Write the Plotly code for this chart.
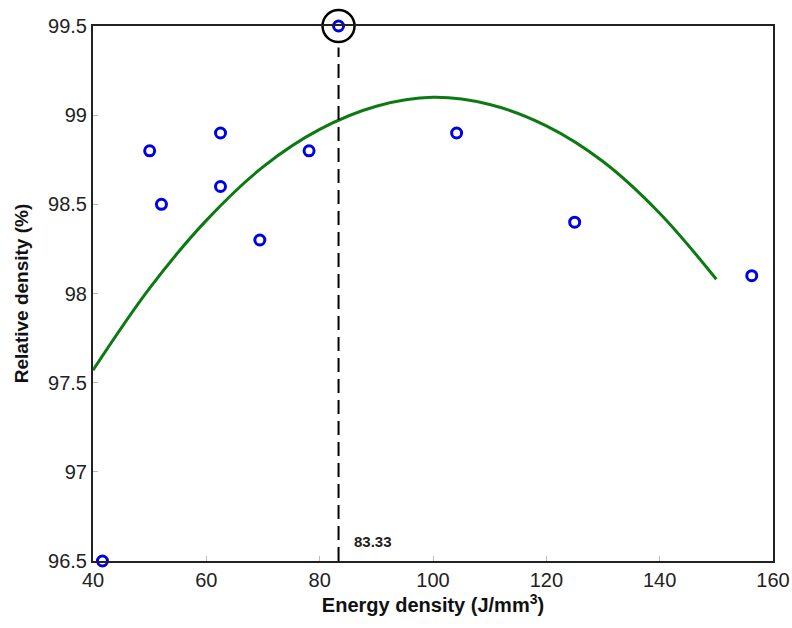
import plotly.graph_objects as go

# Measured points
energy_density = [41.67, 50.0, 52.08, 62.5, 62.5, 69.44, 78.13, 83.33, 104.17, 125.0, 156.25]
relative_density = [96.5, 98.8, 98.5, 98.9, 98.6, 98.3, 98.8, 99.5, 98.9, 98.4, 98.1]

# Fitted curve
fit_x = [40, 50, 60, 70, 80, 90, 100, 110, 120, 130, 140, 150]
fit_y = [97.57, 98.03, 98.41, 98.71, 98.92, 99.05, 99.10, 99.06, 98.94, 98.74, 98.45, 98.08]

optimum_x = 83.33
optimum_y = 99.5
optimum_label = "83.33"

FONT = "Liberation Sans, Arial, Helvetica"

fig = go.Figure()

fig.add_trace(go.Scatter(
    x=fit_x, y=fit_y, mode="lines",
    line=dict(color="#0b7a12", width=3, shape="spline"),
    showlegend=False, hoverinfo="skip"))

fig.add_trace(go.Scatter(
    x=[optimum_x, optimum_x], y=[96.5, 99.38], mode="lines",
    line=dict(color="black", width=2, dash="14px,7px"),
    showlegend=False, hoverinfo="skip"))

fig.add_trace(go.Scatter(
    x=energy_density, y=relative_density, mode="markers",
    marker=dict(symbol="circle-open", size=10, color="#0000e6",
                line=dict(width=3, color="#0000e6")),
    showlegend=False, cliponaxis=False))

# Ring around the optimum point
fig.add_trace(go.Scatter(
    x=[optimum_x], y=[optimum_y], mode="markers",
    marker=dict(symbol="circle-open", size=32, color="black",
                line=dict(width=2.5, color="black")),
    showlegend=False, cliponaxis=False, hoverinfo="skip"))

fig.add_annotation(x=optimum_x + 2.3, y=96.61, text="<b>" + optimum_label + "</b>",
                   showarrow=False, xanchor="left", yanchor="middle",
                   font=dict(family=FONT, size=15, color="#222"))

axis_common = dict(
    showgrid=False, zeroline=False, showline=True, linecolor="#222",
    linewidth=2, mirror=True, ticks="inside", ticklen=5, tickcolor="#bbb",
    automargin=False,
    tickfont=dict(family=FONT, size=20, color="#222"))

fig.update_xaxes(range=[40, 160], tickvals=[40, 60, 80, 100, 120, 140, 160],
                 title=dict(text="<b>Energy density (J/mm<sup>3</sup>)</b>",
                            font=dict(family=FONT, size=20, color="#111"),
                            standoff=6),
                 **axis_common)
fig.update_yaxes(range=[96.5, 99.5], tickvals=[96.5, 97, 97.5, 98, 98.5, 99, 99.5],
                 ticktext=["96.5", "97", "97.5", "98", "98.5", "99", "99.5"],
                 title=dict(text="<b>Relative density (%)</b>",
                            font=dict(family=FONT, size=19, color="#111"),
                            standoff=14),
                 **axis_common)

fig.update_layout(width=792, height=628, plot_bgcolor="white", paper_bgcolor="white",
                  margin=dict(l=93, r=19, t=26, b=67))

fig.write_html("out.html",
               config={"displayModeBar": False},
               post_script="document.body.style.margin='0';document.body.style.overflow='hidden';")
